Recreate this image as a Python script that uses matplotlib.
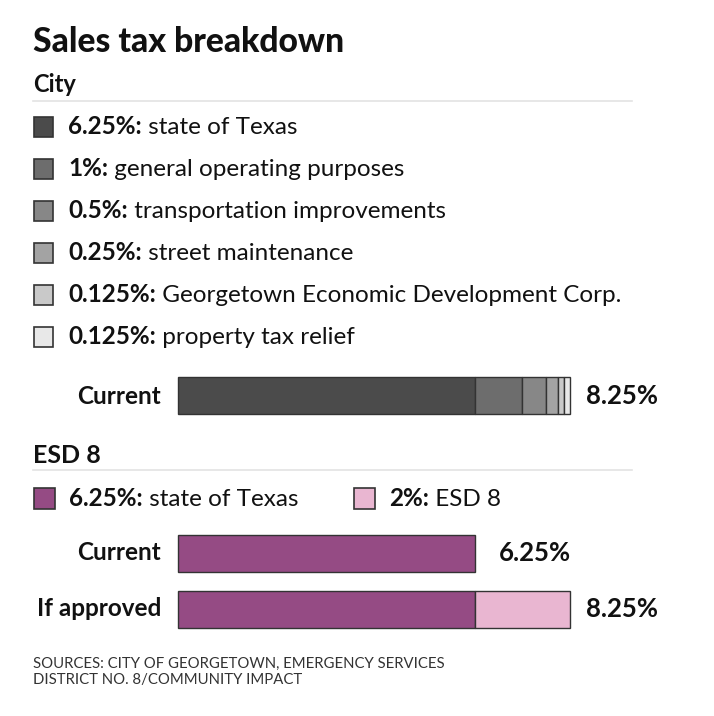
import matplotlib.pyplot as plt
from matplotlib.patches import Rectangle

plt.rcParams['font.family'] = ['Lato', 'DejaVu Sans']

# City data
city_rates = [6.25, 1, 0.5, 0.25, 0.125, 0.125]
city_labels = ["6.25%:", "1%:", "0.5%:", "0.25%:", "0.125%:", "0.125%:"]
city_desc = ["state of Texas", "general operating purposes",
             "transportation improvements", "street maintenance",
             "Georgetown Economic Development Corp.", "property tax relief"]
city_colors = ["#4b4b4b", "#6d6d6d", "#878787", "#a3a3a3", "#c9c9c9", "#e8e8e8"]
city_total = "8.25%"

# ESD 8 data
esd_rates = [6.25, 2]
esd_labels = ["6.25%:", "2%:"]
esd_desc = ["state of Texas", "ESD 8"]
esd_colors = ["#954b84", "#e9b6d1"]
esd_rows = ["Current", "If approved"]
esd_values = [[6.25, 0], [6.25, 2]]
esd_totals = ["6.25%", "8.25%"]

W, H = 714, 716
fig = plt.figure(figsize=(W / 100, H / 100), dpi=100)
ax = fig.add_axes([0, 0, 1, 1])
# x in percent units (bar starts at pixel 178, 47.5 px per percent), y in pixels
px = 47.5
x0 = 178
ax.set_xlim(-x0 / px, (W - x0) / px)
ax.set_ylim(H, 0)
ax.axis('off')


def X(p):
    # pixel -> data x
    return (p - x0) / px


dark = "#111111"
fs = 17.5
ax.text(X(33), 52, "Sales tax breakdown", fontsize=24.2, fontweight='black',
        color=dark, va='baseline')

# City section
ax.text(X(33), 92, "City", fontsize=17, fontweight='bold', color=dark, va='baseline')
ax.plot([X(33), X(632)], [101, 101], color="#e3e3e3", lw=1.2)

for i, (lab, desc, col) in enumerate(zip(city_labels, city_desc, city_colors)):
    yc = 127 + 42 * i
    ax.add_patch(Rectangle((X(34), yc - 10), 19 / px, 20, facecolor=col,
                           edgecolor="#333333", lw=1.2))
    t = ax.text(X(68), yc, lab, fontsize=fs, fontweight='bold', color=dark, va='center')
    ax.annotate(" " + desc, xycoords=t, xy=(1, 0), va='bottom', fontsize=fs,
                color=dark)

bar_h = 37
left = 0
for r, col in zip(city_rates, city_colors):
    ax.barh(395, r, left=left, height=bar_h, color=col, edgecolor="#333333", lw=1)
    left += r
ax.text(X(161), 396, "Current", fontsize=fs, fontweight='bold', color=dark,
        ha='right', va='center')
ax.text(left + 16 / px, 396, city_total, fontsize=18.5, fontweight='bold', color=dark,
        va='center')

# ESD 8 section
ax.text(X(33), 463, "ESD 8", fontsize=18, fontweight='bold', color=dark, va='baseline')
ax.plot([X(33), X(632)], [470, 470], color="#e3e3e3", lw=1.2)
leg_x = [33, 353]
for lx, lab, desc, col in zip(leg_x, esd_labels, esd_desc, esd_colors):
    ax.add_patch(Rectangle((X(lx + 1), 488), 21 / px, 21, facecolor=col,
                           edgecolor="#333333", lw=1.2))
    t = ax.text(X(lx + 36), 498, lab, fontsize=fs, fontweight='bold', color=dark,
                va='center')
    ax.annotate(" " + desc, xycoords=t, xy=(1, 0), va='bottom', fontsize=fs,
                color=dark)

row_y = [553, 609]
gaps = [24, 16]
for yc, name, vals, tot, g in zip(row_y, esd_rows, esd_values, esd_totals, gaps):
    left = 0
    for v, col in zip(vals, esd_colors):
        if v > 0:
            ax.barh(yc, v, left=left, height=bar_h, color=col,
                    edgecolor="#333333", lw=1)
            left += v
    ax.text(X(161), yc, name, fontsize=fs, fontweight='bold', color=dark,
            ha='right', va='center')
    ax.text(left + g / px, yc, tot, fontsize=18.5, fontweight='bold', color=dark,
            va='center')

ax.text(X(33), 672, "SOURCES: CITY OF GEORGETOWN, EMERGENCY SERVICES\nDISTRICT NO. 8/COMMUNITY IMPACT",
        fontsize=10.7, color="#333333", va='center', linespacing=1.25)

fig.savefig("out.png", dpi=100, facecolor='white')
